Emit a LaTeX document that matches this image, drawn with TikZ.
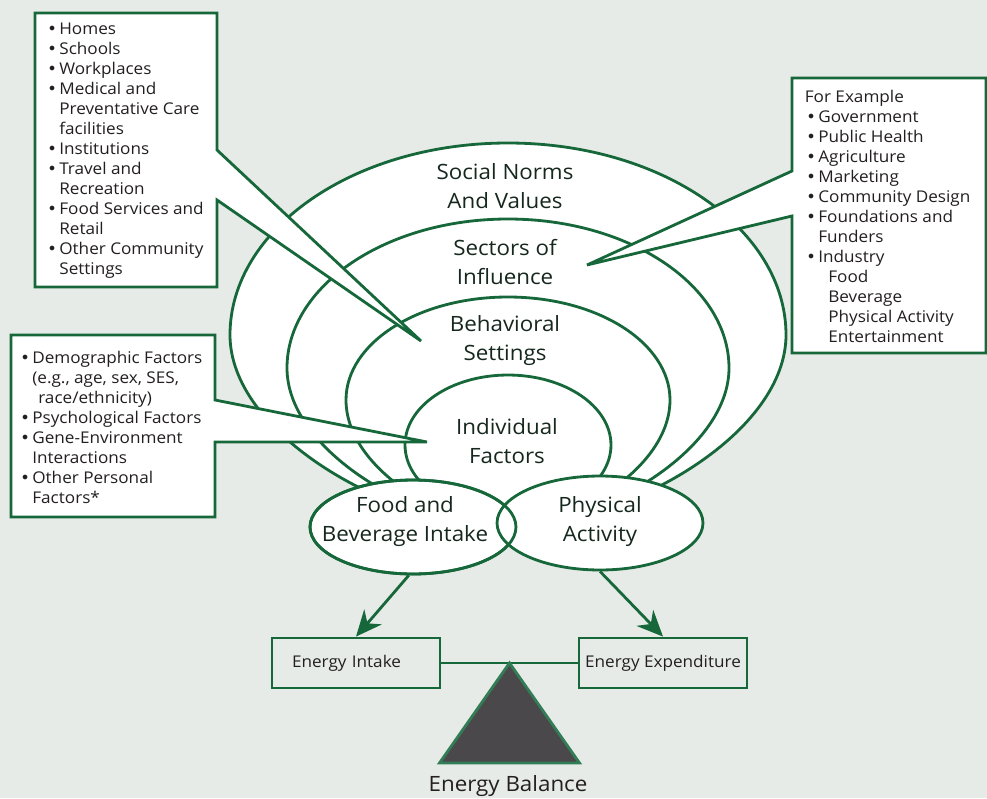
\documentclass[tikz,border=0pt]{standalone}
\usepackage{fontspec}
\setmainfont{Open Sans}[FakeStretch=1.06]
\newfontfamily\bulletfont{DejaVu Sans}
\usetikzlibrary{arrows.meta, shapes.geometric, calc}

\definecolor{pagebg}{RGB}{230,235,231}
\definecolor{leafgreen}{RGB}{22,104,58}
\definecolor{labelink}{RGB}{22,40,30}
\definecolor{textink}{RGB}{35,31,32}
\definecolor{fulcrum}{RGB}{74,72,74}
\definecolor{fulcrumedge}{RGB}{50,125,85}

\newcommand{\calbul}{\makebox[0.24cm][l]{\bulletfont\textbullet}}
\newcommand{\calind}{\hspace*{0.24cm}}

\begin{document}
\begin{tikzpicture}[x=0.02cm, y=-0.02cm,
    ring/.style={draw=leafgreen, line width=1.6pt, fill=white},
    callout/.style={draw=leafgreen, line width=1.6pt, fill=white, line join=miter},
    calltext/.style={anchor=north west, inner sep=0pt, align=left, text=textink,
      font=\fontsize{9.2}{11.38}\selectfont},
    biglabel/.style={align=center, text=labelink, font=\fontsize{12}{16.5}\selectfont},
    oval/.style={ellipse, draw=leafgreen, line width=1.6pt, fill=white,
      minimum width=4.12cm, minimum height=1.88cm, inner sep=0pt},
    ebox/.style={draw=leafgreen, line width=1.6pt, minimum width=3.36cm, minimum height=1cm,
      inner xsep=2pt, text=textink, font=\fontsize{9.2}{12}\selectfont},
    arr/.style={draw=leafgreen, line width=1.6pt, -{Stealth[length=0.52cm, width=0.46cm]}}]

  % backdrop
  \path[use as bounding box, fill=pagebg] (0,0) rectangle (987,798);

  % nested rings, outermost first
  \draw[ring] (230,335) .. controls (230,229) and (354,143) .. (508,143)
    .. controls (662,143) and (786,229) .. (786,335)
    .. controls (786,430) and (640,520) .. (508,530)
    .. controls (376,520) and (230,430) .. (230,335) -- cycle;
  \draw[ring] (287,368) .. controls (287,286) and (386,219) .. (508,219)
    .. controls (630,219) and (729,286) .. (729,368)
    .. controls (729,447) and (612,520) .. (508,530)
    .. controls (404,520) and (287,447) .. (287,368) -- cycle;
  \draw[ring] (346,400) .. controls (346,343) and (418,297) .. (508,297)
    .. controls (598,297) and (670,343) .. (670,400)
    .. controls (670,464) and (584,520) .. (508,530)
    .. controls (432,520) and (346,464) .. (346,400) -- cycle;
  \draw[ring] (508,445) ellipse [x radius=2.06cm, y radius=1.4cm];

  \node[biglabel] (social) at (505,186) {Social Norms\\And Values};
  \node[biglabel] (sectors) at (505,262) {Sectors of\\Influence};
  \node[biglabel] (settings) at (505,341) {Behavioral\\Settings};
  \node[biglabel] (individual) at (507,441) {Individual\\Factors};

  % callouts
  \draw[callout] (35,13) -- (217,13) -- (217,150) -- (421,341) -- (217,200)
    -- (217,287) -- (35,287) -- cycle;
  \node[calltext] (placelist) at (47,23) {\calbul Homes\\ \calbul Schools\\
    \calbul Workplaces\\ \calbul Medical and\\ \calind Preventative Care\\
    \calind facilities\\ \calbul Institutions\\ \calbul Travel and\\
    \calind Recreation\\ \calbul Food Services and\\ \calind Retail\\
    \calbul Other Community\\ \calind Settings};

  \draw[callout] (792,78) -- (986,78) -- (986,353) -- (792,353) -- (792,216)
    -- (587,265) -- (792,171) -- cycle;
  \node[calltext] (sectorlist) at (804.5,90) {For Example\\
    \hspace*{0.03cm}\calbul Government\\ \hspace*{0.03cm}\calbul Public Health\\
    \hspace*{0.03cm}\calbul Agriculture\\ \hspace*{0.03cm}\calbul Marketing\\
    \hspace*{0.03cm}\calbul Community Design\\
    \hspace*{0.03cm}\calbul Foundations and\\ \hspace*{0.03cm}\calind Funders\\
    \hspace*{0.03cm}\calbul Industry\\ \hspace*{0.47cm}Food\\
    \hspace*{0.47cm}Beverage\\ \hspace*{0.47cm}Physical Activity\\
    \hspace*{0.47cm}Entertainment};

  \draw[callout] (11,335) -- (215,335) -- (215,400) -- (427,442) -- (215,442)
    -- (215,517) -- (11,517) -- cycle;
  \node[calltext] (factorlist) at (20,351) {\calbul Demographic Factors\\
    \calind (e.g., age, sex, SES,\\ \calind\hspace*{0.12cm}race/ethnicity)\\
    \calbul Psychological Factors\\ \calbul Gene-Environment\\
    \calind Interactions\\ \calbul Other Personal\\ \calind Factors*};

  % behaviours
  \node[oval] (food) at (413,527) {};
  \node[oval] (phys) at (600,523) {};
  \draw[leafgreen, line width=1.6pt] (food.center) ellipse [x radius=2.06cm, y radius=0.94cm];
  \node[biglabel] (foodlabel) at (405,522) {Food and\\Beverage Intake};
  \node[biglabel] (physlabel) at (600,522) {Physical\\Activity};

  % balance
  \node[ebox, text width=2.56cm, inner xsep=0.4cm, align=left] (intake) at (356,663) {Energy Intake};
  \node[ebox] (expend) at (663,663) {Energy Expenditure};
  \draw[arr] (food.265) -- (intake.north);
  \draw[arr] (phys.south) -- (expend.north);
  \draw[leafgreen, line width=1.6pt] (intake.east) -- (expend.west);
  \coordinate (pivot) at ($(intake.east)!0.5!(expend.west)$);
  \draw[fill=fulcrum, draw=fulcrumedge, line width=1.6pt] (pivot) -- ++(-70,100) -- ++(140,0) -- cycle;
  \node[biglabel, text=textink] (balance) at (508,786) {Energy Balance};
\end{tikzpicture}
\end{document}
